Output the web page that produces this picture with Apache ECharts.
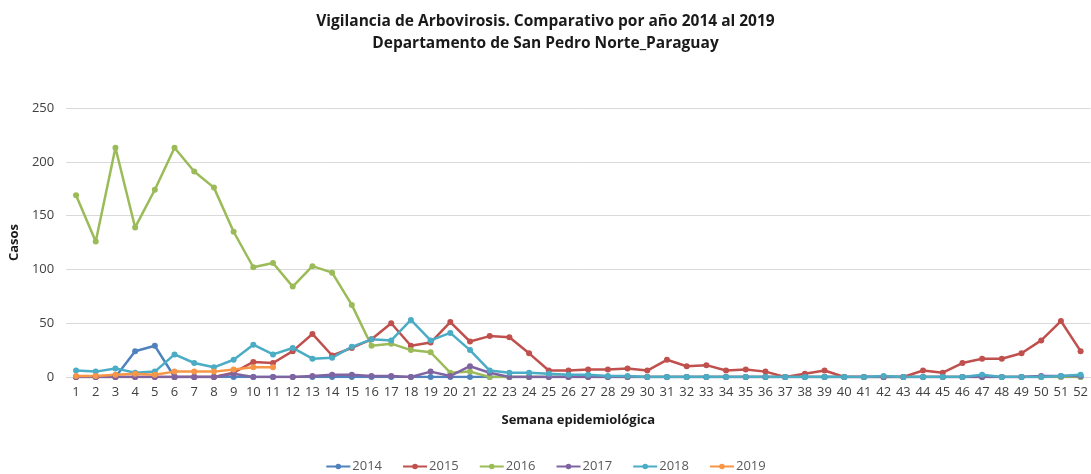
<!DOCTYPE html>
<html>
<head>
<meta charset="utf-8">
<script src="https://cdn.jsdelivr.net/npm/echarts@6/dist/echarts.min.js"></script>
<style>
html,body{margin:0;padding:0;background:#fff;}
#mychart{width:1091px;height:474px;}
</style>
</head>
<body>
<div id="mychart"></div>
<script>
// semanas epidemiológicas
var semanas = ['1','2','3','4','5','6','7','8','9','10','11','12','13','14','15','16','17','18','19','20','21','22','23','24','25','26',
  '27','28','29','30','31','32','33','34','35','36','37','38','39','40','41','42','43','44','45','46','47','48','49','50','51','52'];

var casos2014 = [0,0,0,24,29,0,0,0,0,0,0,0,0,0,0,0,0,0,0,0,0,0,0,0,0,0,
  0,0,0,0,0,0,0,0,0,0,0,0,0,0,0,0,0,0,0,0,0,0,0,0,0,0];
var casos2015 = [0,0,0,0,0,0,0,0,4,14,13,24,40,20,27,35,50,29,32,51,33,38,37,22,6,6,
  7,7,8,6,16,10,11,6,7,5,0,3,6,0,0,0,0,6,4,13,17,17,22,34,52,24];
var casos2016 = [169,126,213,139,174,213,191,176,135,102,106,84,103,97,67,29,31,25,23,4,5,0,0,0,0,0,
  0,0,0,0,0,0,0,0,0,0,0,0,0,0,0,0,0,0,0,0,0,0,0,0,0,0];
var casos2017 = [0,0,0,0,0,0,0,0,3,0,0,0,1,2,2,1,1,0,5,1,10,4,0,0,0,0,
  0,0,0,0,0,0,0,0,0,0,0,0,0,0,0,0,0,0,0,0,0,0,0,1,1,1];
var casos2018 = [6,5,8,4,5,21,13,9,16,30,21,27,17,18,28,35,34,53,34,41,25,6,4,4,3,2,
  2,1,1,0,0,0,0,0,0,0,0,0,0,0,0,1,0,0,0,0,2,0,0,0,1,2];
var casos2019 = [1,1,2,3,2,5,5,5,7,9,9];

var anios = ['2014','2015','2016','2017','2018','2019'];
var colores = ['#4F81BD','#C0504D','#9BBB59','#8064A2','#4BACC6','#F79646'];
var datos = [casos2014,casos2015,casos2016,casos2017,casos2018,casos2019];

var fuente = '"Open Sans", "Noto Sans", sans-serif';
var myEcharts = echarts.init(document.getElementById('mychart'));

var option = {
  animation:false,
  color:colores,
  title:{
    text:'Vigilancia de Arbovirosis. Comparativo por año 2014 al 2019\nDepartamento de San Pedro Norte_Paraguay',
    left:'center',
    top:6,
    textStyle:{fontFamily:fuente,fontSize:15.5,fontWeight:'bold',color:'#1a1a1a',lineHeight:22}
  },
  legend:{
    top:455,
    left:'center',
    itemWidth:24,
    itemHeight:7,
    itemGap:20,
    textStyle:{fontFamily:fuente,fontSize:13,color:'#595959',padding:[0,0,0,-3]},
    data:anios
  },
  grid:{left:62,right:0,top:108,bottom:97,containLabel:false},
  xAxis:{
    type:'category',
    boundaryGap:true,
    data:semanas,
    name:'Semana epidemiológica',
    nameLocation:'middle',
    nameGap:37,
    nameTextStyle:{fontFamily:fuente,fontSize:13,fontWeight:'bold',color:'#1a1a1a'},
    axisLine:{lineStyle:{color:'#d9d9d9'}},
    axisTick:{show:false},
    axisLabel:{fontFamily:fuente,fontSize:13,color:'#404040',interval:0,margin:9}
  },
  yAxis:{
    type:'value',
    min:0,
    max:250,
    interval:50,
    name:'Casos',
    nameLocation:'middle',
    nameGap:42,
    nameTextStyle:{fontFamily:fuente,fontSize:13,fontWeight:'bold',color:'#1a1a1a'},
    axisLine:{show:false},
    axisTick:{show:false},
    splitLine:{lineStyle:{color:'#d9d9d9'}},
    axisLabel:{fontFamily:fuente,fontSize:13,color:'#404040',margin:12}
  },
  series:anios.map(function(a,i){
    return {
      name:a,
      type:'line',
      data:datos[i],
      symbol:'circle',
      symbolSize:6,
      lineStyle:{width:2.5,color:colores[i]},
      itemStyle:{color:colores[i]}
    };
  })
};

myEcharts.setOption(option);
</script>
</body>
</html>
